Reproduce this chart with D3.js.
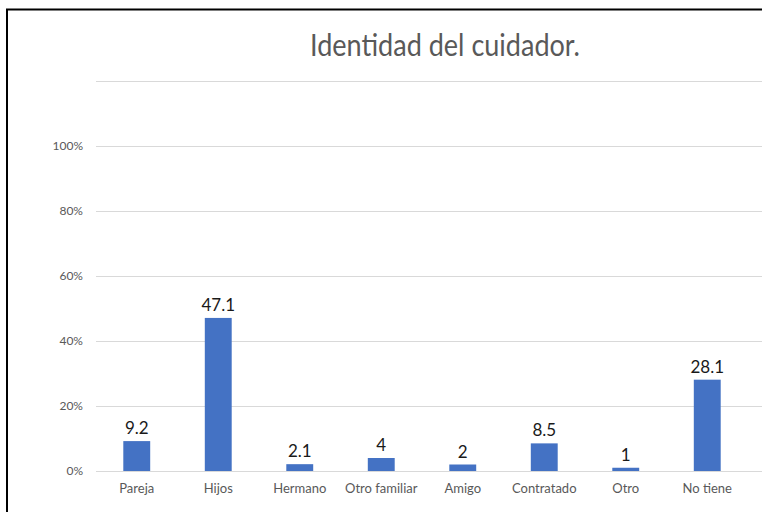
<!DOCTYPE html>
<html>
<head>
<meta charset="utf-8">
<script src="https://cdn.jsdelivr.net/npm/d3@7"></script>
<style>
  html, body { margin: 0; padding: 0; background: #fff; }
  svg { display: block; }
</style>
</head>
<body>
<svg id="chart" width="762" height="512"></svg>
<script>
// Caregiver identity, percent of respondents
const categories = ["Pareja", "Hijos", "Hermano", "Otro familiar", "Amigo", "Contratado", "Otro", "No tiene"];
const values = [9.2, 47.1, 2.1, 4, 2, 8.5, 1, 28.1];
const yTicks = [0, 20, 40, 60, 80, 100];
const gridTicks = [0, 20, 40, 60, 80, 100, 120];
const title = "Identidad del cuidador.";

const svg = d3.select("#chart");
const font = "Lato, 'Open Sans', sans-serif";

// frame of the chart area
svg.append("rect")
  .attr("x", 7).attr("y", 9.5)
  .attr("width", 800).attr("height", 600)
  .attr("fill", "#fff")
  .attr("stroke", "#000").attr("stroke-width", 2);

const x = d3.scaleBand().domain(categories).range([96, 748]).paddingInner(0.67).paddingOuter(0.335);
const y = d3.scaleLinear().domain([0, 120]).range([471, 81]);

// horizontal gridlines
svg.append("g").selectAll("line").data(gridTicks).join("line")
  .attr("x1", 96).attr("x2", 762)
  .attr("y1", d => y(d) + 0.5).attr("y2", d => y(d) + 0.5)
  .attr("stroke", "#d9d9d9").attr("stroke-width", 1);

// y axis labels
const yAxis = d3.axisLeft(y).tickValues(yTicks).tickFormat(d => d + "%").tickSize(0).tickPadding(0);
svg.append("g").attr("transform", "translate(83,0)").call(yAxis)
  .call(g => g.select(".domain").remove())
  .call(g => g.selectAll("text").attr("font-family", font).attr("font-size", 12).attr("fill", "#595959"));

// x axis labels
const xAxis = d3.axisBottom(x).tickSize(0).tickPadding(0);
svg.append("g").attr("transform", "translate(0,484)").call(xAxis)
  .call(g => g.select(".domain").remove())
  .call(g => g.selectAll("text").attr("font-family", font).attr("font-size", 13).attr("fill", "#595959"));

// bars
svg.append("g").selectAll("rect").data(values).join("rect")
  .attr("x", (d, i) => x(categories[i]))
  .attr("width", x.bandwidth())
  .attr("y", d => y(d))
  .attr("height", d => y(0) - y(d))
  .attr("fill", "#4472c4");

// value labels
svg.append("g").selectAll("text").data(values).join("text")
  .attr("x", (d, i) => x(categories[i]) + x.bandwidth() / 2)
  .attr("y", d => y(d) - 7)
  .attr("text-anchor", "middle")
  .attr("font-family", font).attr("font-size", 17)
  .attr("fill", "#1a1a1a")
  .text(d => d);

// title
svg.append("text")
  .attr("x", 310).attr("y", 56)
  .attr("textLength", 270).attr("lengthAdjust", "spacingAndGlyphs")
  .attr("font-family", font).attr("font-size", 31)
  .attr("fill", "#595959")
  .text(title);
</script>
</body>
</html>
